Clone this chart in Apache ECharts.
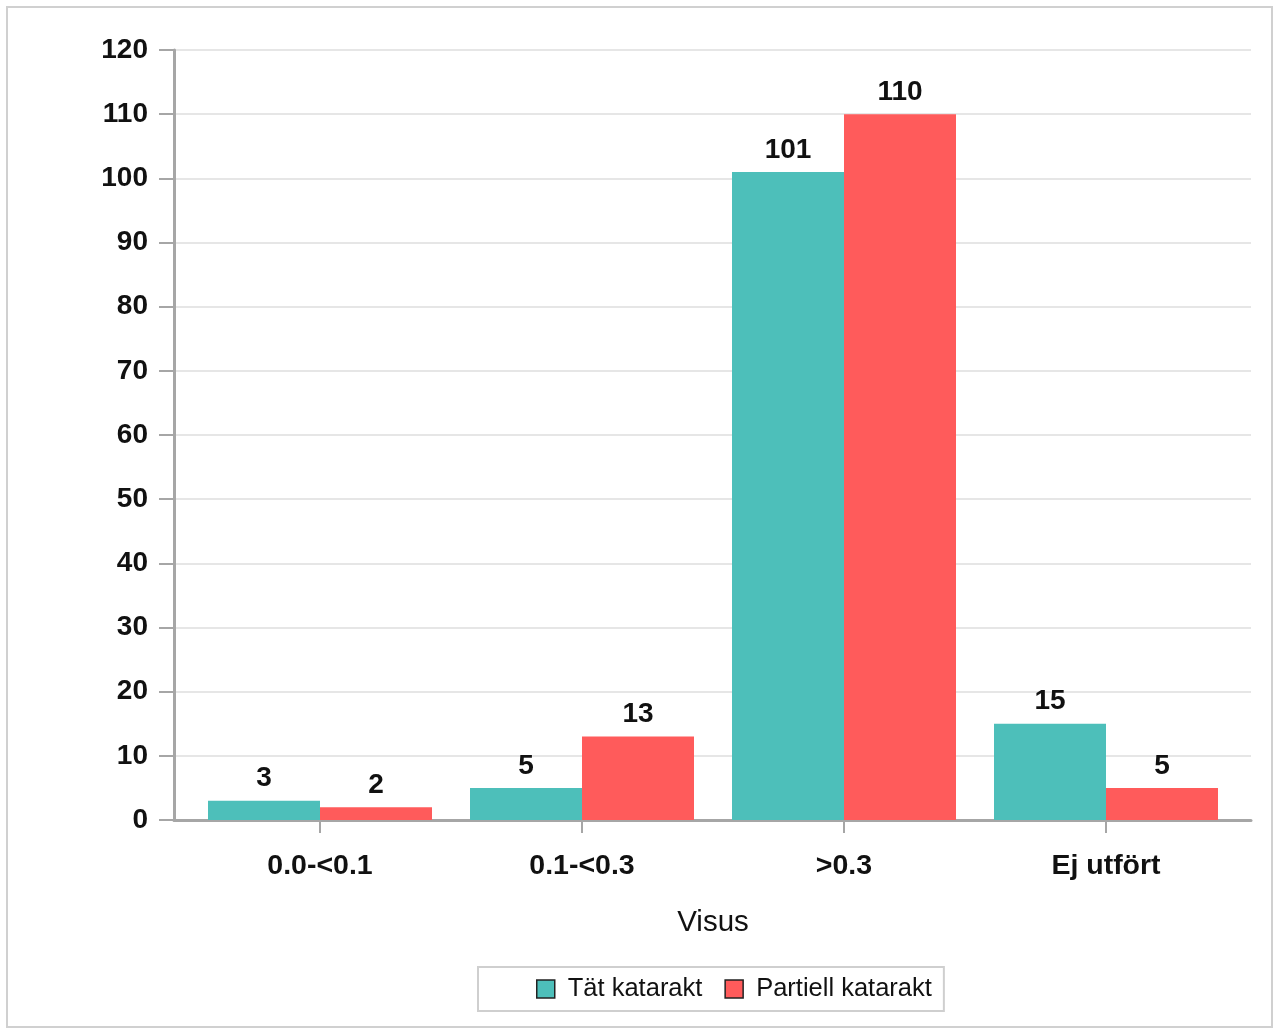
<!DOCTYPE html>
<html>
<head>
<meta charset="utf-8">
<script src="https://cdn.jsdelivr.net/npm/echarts@6/dist/echarts.min.js"></script>
<style>
  html, body { margin: 0; padding: 0; background: #fff; }
  #chart { width: 1275px; height: 1029px; }
</style>
</head>
<body>
<div id="chart"></div>
<script>
// Visus per katarakttyp
const categories = ['0.0-<0.1', '0.1-<0.3', '>0.3', 'Ej utfört'];
const tatKatarakt = [3, 5, 101, 15];
const partiellKatarakt = [2, 13, 110, 5];
const yTicks = { min: 0, max: 120, interval: 10 };

const FONT = '"Liberation Sans", Arial, sans-serif';
const AXIS_GREY = '#a6a6a6';
const TEAL = '#4dbfba';
const RED = '#ff5b5b';

const chart = echarts.init(document.getElementById('chart'), null, { renderer: 'canvas' });

const barLabel = {
  show: true,
  position: 'top',
  distance: 8,
  fontFamily: FONT,
  fontWeight: 'bold',
  fontSize: 28,
  color: '#111'
};

chart.setOption({
  backgroundColor: '#fff',
  animation: false,
  graphic: [{
    type: 'rect',
    shape: { x: 7, y: 7, width: 1265, height: 1020 },
    style: { fill: 'none', stroke: '#d0d0d0', lineWidth: 2 },
    silent: true
  }],
  legend: {
    left: 478,
    top: 967,
    orient: 'horizontal',
    borderColor: '#cfcfcf',
    borderWidth: 2,
    padding: [9, 12, 9, 58],
    itemGap: 22,
    itemWidth: 18,
    itemHeight: 18,
    icon: 'rect',
    textStyle: { fontFamily: FONT, fontSize: 25.5, color: '#111', padding: [0, 0, 0, 8] },
    data: [
      { name: 'Tät katarakt', itemStyle: { color: TEAL, borderColor: '#222', borderWidth: 1.5 } },
      { name: 'Partiell katarakt', itemStyle: { color: RED, borderColor: '#222', borderWidth: 1.5 } }
    ]
  },
  grid: [
    // frame grid: value axis, gridlines and the horizontal axis line
    { left: 174, right: 24, top: 50, bottom: 209, containLabel: false },
    // plotting grid for the grouped bars
    { left: 189, right: 38, top: 50, bottom: 209, containLabel: false }
  ],
  xAxis: [
    {
      type: 'category',
      gridIndex: 0,
      data: categories,
      axisLine: { show: true, lineStyle: { color: AXIS_GREY, width: 3 } },
      axisTick: { show: false },
      axisLabel: { show: false },
      splitLine: { show: false }
    },
    {
      type: 'category',
      gridIndex: 1,
      data: categories,
      boundaryGap: true,
      axisLine: { show: false },
      axisTick: { show: true, alignWithLabel: true, length: 13, lineStyle: { color: AXIS_GREY, width: 2 } },
      axisLabel: { margin: 32, fontFamily: FONT, fontWeight: 'bold', fontSize: 28.5, color: '#111' },
      name: 'Visus',
      nameLocation: 'middle',
      nameGap: 88,
      nameTextStyle: { fontFamily: FONT, fontSize: 29.5, color: '#111' }
    }
  ],
  yAxis: [
    {
      type: 'value',
      gridIndex: 0,
      min: yTicks.min,
      max: yTicks.max,
      interval: yTicks.interval,
      axisLine: { show: true, lineStyle: { color: AXIS_GREY, width: 3 } },
      axisTick: { show: true, length: 15, lineStyle: { color: AXIS_GREY, width: 2 } },
      axisLabel: { margin: 26, fontFamily: FONT, fontWeight: 'bold', fontSize: 28, color: '#111' },
      splitLine: { show: true, lineStyle: { color: '#e6e6e6', width: 2 } }
    },
    {
      type: 'value',
      gridIndex: 1,
      min: yTicks.min,
      max: yTicks.max,
      interval: yTicks.interval,
      show: false,
      splitLine: { show: false }
    }
  ],
  series: [
    {
      name: 'Tät katarakt',
      type: 'bar',
      xAxisIndex: 1,
      yAxisIndex: 1,
      data: tatKatarakt,
      barWidth: 112,
      barGap: '0%',
      itemStyle: { color: TEAL },
      label: barLabel
    },
    {
      name: 'Partiell katarakt',
      type: 'bar',
      xAxisIndex: 1,
      yAxisIndex: 1,
      data: partiellKatarakt,
      barWidth: 112,
      barGap: '0%',
      itemStyle: { color: RED },
      label: barLabel
    }
  ]
});
</script>
</body>
</html>
